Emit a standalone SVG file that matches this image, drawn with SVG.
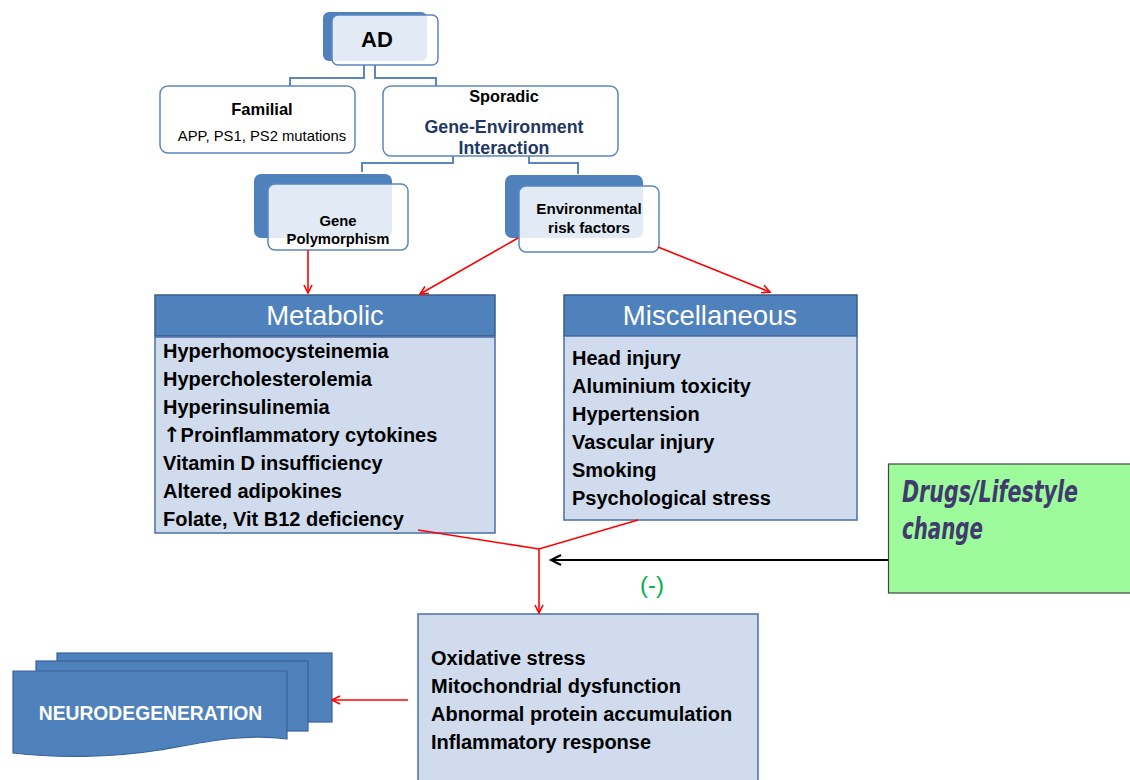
<svg xmlns="http://www.w3.org/2000/svg" width="1130" height="780" viewBox="0 0 1130 780">
<style>
text{font-family:"Liberation Sans",Arial,sans-serif;fill:#000}
.b{font-weight:bold}
.tree{fill:none;stroke:#5b86c0;stroke-width:2}
.back{fill:#4f81bd}
.front{fill:#fff;fill-opacity:0.84;stroke:#5b86c0;stroke-width:1.5}
.box{fill:#fff;stroke:#5b86c0;stroke-width:1.5}
.hdr{fill:#4f81bd;stroke:#385d8a;stroke-width:1.5}
.body{fill:#d0dcee;stroke:#4a6fa5;stroke-width:1.5}
.ht{fill:#fff;font-size:27.5px;text-anchor:middle}
.li{font-size:20px;font-weight:bold}
.red{fill:none;stroke:#ff0000;stroke-width:1.6}
.doc{fill:#4f81bd;stroke:#3a6296;stroke-width:1.2}
.dr{font-family:'DejaVu Sans Condensed','DejaVu Sans',sans-serif;fill:#403a6e;font-stretch:condensed;font-size:31px;font-weight:bold;font-style:italic}
</style>
<defs>
<marker id="ar" markerWidth="12" markerHeight="12" refX="9" refY="5" orient="auto" markerUnits="userSpaceOnUse">
<path d="M1,1 L9,5 L1,9" fill="none" stroke="#ff0000" stroke-width="1.6"/>
</marker>
<marker id="ak" markerWidth="14" markerHeight="14" refX="11" refY="6" orient="auto" markerUnits="userSpaceOnUse">
<path d="M1,1 L11,6 L1,11" fill="none" stroke="#000" stroke-width="2"/>
</marker>
</defs>

<g id="node-ad">
<rect class="back" x="323" y="12" width="104" height="49" rx="6"/>
<rect class="front" x="332" y="15" width="106" height="50" rx="6"/>
<text class="b" x="377" y="47" font-size="22" text-anchor="middle">AD</text>
</g>

<g id="node-familial">
<rect class="box" x="160" y="86" width="195" height="67" rx="8"/>
<text class="b" x="262" y="115" font-size="16.5" text-anchor="middle">Familial</text>
<text x="262" y="141" font-size="14.8" text-anchor="middle">APP, PS1, PS2 mutations</text>
</g>

<g id="node-sporadic">
<rect class="box" x="383" y="86" width="235" height="70" rx="8"/>
<text class="b" x="504" y="102" font-size="16.3" text-anchor="middle">Sporadic</text>
<text class="b" x="504" y="132.5" font-size="17.8" text-anchor="middle" style="fill:#1f3864">Gene-Environment</text>
<text class="b" x="504" y="154" font-size="17.8" text-anchor="middle" style="fill:#1f3864">Interaction</text>
</g>

<g id="node-gene">
<rect class="back" x="254" y="174" width="138" height="64" rx="7"/>
<rect class="front" x="268" y="184" width="140" height="66" rx="7"/>
<text class="b" x="338" y="226" font-size="14.8" text-anchor="middle">Gene</text>
<text class="b" x="338" y="244" font-size="14.8" text-anchor="middle">Polymorphism</text>
</g>

<g id="node-env">
<rect class="back" x="505" y="175" width="138" height="63" rx="7"/>
<rect class="front" x="519" y="186" width="140" height="66" rx="7"/>
<text class="b" x="589" y="214" font-size="15.2" text-anchor="middle">Environmental</text>
<text class="b" x="589" y="232.5" font-size="15.2" text-anchor="middle">risk factors</text>
</g>

<g id="node-metabolic">
<rect class="hdr" x="155" y="295" width="340" height="41"/>
<text class="ht" x="325" y="325">Metabolic</text>
<rect class="body" x="155" y="337" width="340" height="196"/>
<text class="li" x="163" y="358">Hyperhomocysteinemia</text>
<text class="li" x="163" y="386">Hypercholesterolemia</text>
<text class="li" x="163" y="414">Hyperinsulinemia</text>
<text class="li" x="163" y="442"><tspan style="font-family:'DejaVu Sans',sans-serif" font-size="21">↑</tspan>Proinflammatory cytokines</text>
<text class="li" x="163" y="470">Vitamin D insufficiency</text>
<text class="li" x="163" y="498">Altered adipokines</text>
<text class="li" x="163" y="526">Folate, Vit B12 deficiency</text>
</g>

<g id="node-misc">
<rect class="hdr" x="564" y="295" width="293" height="41"/>
<text class="ht" x="710" y="325">Miscellaneous</text>
<rect class="body" x="564" y="336" width="293" height="184"/>
<text class="li" x="572" y="365">Head injury</text>
<text class="li" x="572" y="393">Aluminium toxicity</text>
<text class="li" x="572" y="421">Hypertension</text>
<text class="li" x="572" y="449">Vascular injury</text>
<text class="li" x="572" y="477">Smoking</text>
<text class="li" x="572" y="505">Psychological stress</text>
</g>

<g id="node-drugs">
<rect x="888.5" y="464" width="250" height="129" fill="#9dfb9b" stroke="#444" stroke-width="1.2"/>
<text class="dr" x="902" y="502" textLength="176" lengthAdjust="spacingAndGlyphs">Drugs/Lifestyle</text>
<text class="dr" x="902" y="539" textLength="81" lengthAdjust="spacingAndGlyphs">change</text>
</g>

<g id="node-mechanisms">
<rect class="body" x="418" y="614" width="340" height="180"/>
<text class="li" x="431" y="665">Oxidative stress</text>
<text class="li" x="431" y="693">Mitochondrial dysfunction</text>
<text class="li" x="431" y="721">Abnormal protein accumulation</text>
<text class="li" x="431" y="749">Inflammatory response</text>
</g>

<g id="node-neuro">
<rect class="doc" x="57" y="653" width="275" height="69"/>
<rect class="doc" x="36" y="661" width="272" height="70"/>
<path class="doc" d="M13,671 H287 V739 C245,733 205,742 160,750 C110,758 55,758 13,753 Z"/>
<text class="b" x="150.5" y="720" font-size="19.3" text-anchor="middle" style="fill:#fff">NEURODEGENERATION</text>
</g>

<g id="connectors">
<polyline class="tree" points="364,65 364,78 290,78 290,86"/>
<polyline class="tree" points="375,65 375,78 436,78 436,86"/>
<polyline class="tree" points="453,156 453,163 362,163 362,172"/>
<polyline class="tree" points="529,156 529,163 578,163 578,174"/>
<line class="red" x1="308" y1="250" x2="308" y2="293" marker-end="url(#ar)"/>
<line class="red" x1="518" y1="238" x2="420" y2="294" marker-end="url(#ar)"/>
<line class="red" x1="658" y1="247" x2="770" y2="292" marker-end="url(#ar)"/>
<polyline class="red" points="418,530 539,549 638,520"/>
<line class="red" x1="539" y1="549" x2="539" y2="613" marker-end="url(#ar)"/>
<line x1="888" y1="560" x2="551" y2="560" stroke="#000" stroke-width="2" marker-end="url(#ak)"/>
<line class="red" x1="408" y1="700" x2="332" y2="700" marker-end="url(#ar)"/>
<text x="652" y="593" font-size="24" text-anchor="middle" style="fill:#00b050">(-)</text>
</g>
</svg>
